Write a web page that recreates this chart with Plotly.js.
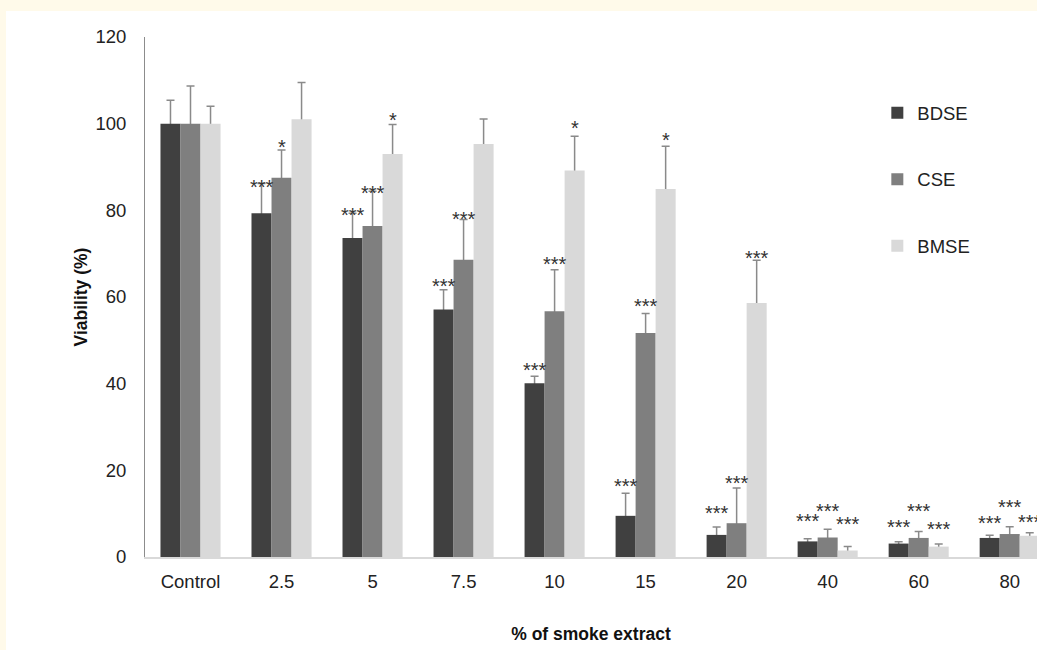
<!DOCTYPE html>
<html>
<head>
<meta charset="utf-8">
<script src="https://cdn.plot.ly/plotly-3.0.1.min.js"></script>
<style>
  html, body { margin: 0; padding: 0; background: #fffaea; width: 1037px; height: 650px; overflow: hidden; }
  #chart { position: absolute; left: 6px; top: 11px; width: 1031px; height: 639px; background: #ffffff; }
</style>
</head>
<body>
<div id="chart"></div>
<script>
// ---- data ----
var categories = ['Control', '2.5', '5', '7.5', '10', '15', '20', '40', '60', '80'];

var bdse    = [100, 79.3, 73.6, 57.1, 40.1, 9.5, 5.1, 3.6, 3.1, 4.4];
var bdseErr = [5.4, 6.9, 5.7, 4.6, 1.6, 5.2, 1.8, 0.6, 0.4, 0.6];
var cse     = [100, 87.5, 76.4, 68.6, 56.7, 51.7, 7.8, 4.5, 4.4, 5.3];
var cseErr  = [8.7, 6.4, 8.0, 9.3, 9.6, 4.5, 8.1, 1.9, 1.5, 1.7];
var bmse    = [100, 101.0, 93.0, 95.3, 89.2, 84.9, 58.6, 1.5, 2.4, 4.9];
var bmseErr = [4.0, 8.5, 6.8, 5.8, 7.9, 9.9, 9.9, 0.9, 0.6, 0.7];

// significance marks and the height (in % viability) at which each is printed
var bdseSig = ['', '***', '***', '***', '***', '***', '***', '***', '***', '***'];
var cseSig  = ['', '*', '***', '***', '***', '***', '***', '***', '***', '***'];
var bmseSig = ['', '', '*', '', '*', '*', '***', '***', '***', '***'];
var bdseSigAt = [null, 86.7, 80.3, 63.9, 44.6, 17.7, 11.5, 9.8, 8.3, 9.2];
var cseSigAt  = [null, 96.0, 85.4, 79.3, 69.1, 59.2, 18.4, 11.9, 12.0, 12.9];
var bmseSigAt = [null, null, 102.2, null, 100.4, 97.7, 70.3, 8.9, 7.9, 9.4];

var seriesNames = ['BDSE', 'CSE', 'BMSE'];
var seriesColors = ['#404040', '#7f7f7f', '#d9d9d9'];

// ---- build traces ----
var values = [bdse, cse, bmse];
var errs = [bdseErr, cseErr, bmseErr];
var sigs = [bdseSig, cseSig, bmseSig];
var sigAts = [bdseSigAt, cseSigAt, bmseSigAt];

var FONT = 'Liberation Sans, Arial, Helvetica, sans-serif';
var traces = [];
// error-bar carriers drawn first (below the visible bars, so only the upper half shows)
for (var s = 0; s < 3; s++) {
  traces.push({
    type: 'bar', x: categories, y: values[s], offsetgroup: 'g' + s,
    marker: { color: 'rgba(0,0,0,0)' }, showlegend: false, hoverinfo: 'skip',
    error_y: { type: 'data', array: errs[s], symmetric: true, visible: true,
               color: '#8a8a8a', thickness: 1.5, width: 4 }
  });
}
for (var s2 = 0; s2 < 3; s2++) {
  traces.push({
    type: 'bar', x: categories, y: values[s2], name: seriesNames[s2], offsetgroup: 'g' + s2,
    legendgroup: seriesNames[s2],
    marker: { color: seriesColors[s2] }
  });
}

var bargap = 0.34;
var slotW = (1 - bargap) / 3;
var annotations = [];
for (var k = 0; k < 3; k++) {
  for (var i = 0; i < categories.length; i++) {
    if (!sigs[k][i]) continue;
    annotations.push({
      xref: 'x', yref: 'y', x: i + (k - 1) * slotW, y: sigAts[k][i],
      text: sigs[k][i], showarrow: false,
      xanchor: 'center', yanchor: 'middle', yshift: -6,
      font: { family: FONT, size: 20, color: '#333333' }
    });
  }
}

var layout = {
  width: 1031, height: 639,
  margin: { l: 139, r: 0, t: 26, b: 93, pad: 0 },
  paper_bgcolor: '#ffffff', plot_bgcolor: '#ffffff',
  barmode: 'group', bargap: bargap, bargroupgap: 0,
  font: { family: FONT, size: 18.5, color: '#222222' },
  xaxis: {
    type: 'category', range: [-0.5, 9.3], autorange: false,
    showline: true, linecolor: '#d9d9d9', linewidth: 2,
    showgrid: false, zeroline: false, ticks: '', ticklabelstandoff: 7,
    tickfont: { family: FONT, size: 18.5, color: '#222222' },
    title: { text: '% of smoke extract', standoff: 37,
             font: { family: FONT, size: 17.5, color: '#111111', weight: 'bold' } }
  },
  yaxis: {
    range: [0, 120], autorange: false, tickvals: [0, 20, 40, 60, 80, 100, 120],
    showline: true, linecolor: '#8c8c8c', linewidth: 1,
    showgrid: false, zeroline: false, ticks: '', ticklabelstandoff: 14,
    tickfont: { family: FONT, size: 18.5, color: '#222222' },
    title: { text: 'Viability (%)', standoff: 3,
             font: { family: FONT, size: 17.5, color: '#111111', weight: 'bold' } }
  },
  legend: {
    x: 0.821, xanchor: 'left', y: 0.89, yanchor: 'top',
    tracegroupgap: 39.5, traceorder: 'grouped',
    bgcolor: 'rgba(0,0,0,0)', font: { family: FONT, size: 18.5, color: '#222222' }
  },
  annotations: annotations,
  showlegend: true
};

Plotly.newPlot('chart', traces, layout, { displayModeBar: false, staticPlot: true });
</script>
</body>
</html>
